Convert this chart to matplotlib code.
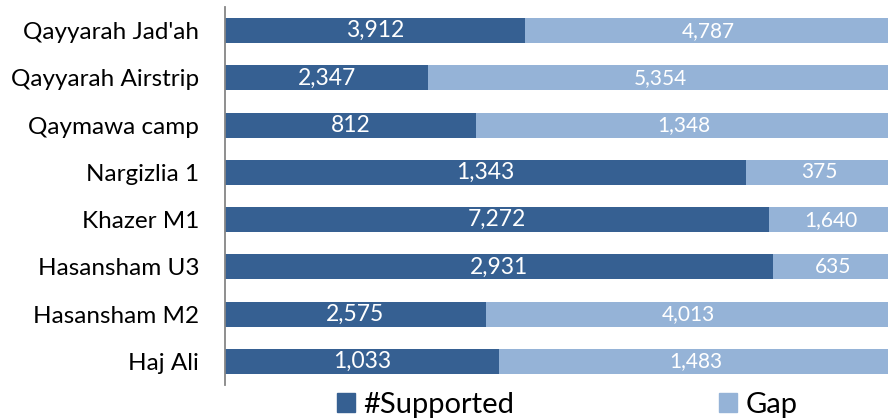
import matplotlib
matplotlib.use("Agg")
import matplotlib.pyplot as plt
from matplotlib.patches import Patch
import numpy as np

plt.rcParams['font.family'] = ['Lato', 'DejaVu Sans']

sites = ["Qayyarah Jad'ah", "Qayyarah Airstrip", "Qaymawa camp", "Nargizlia 1",
         "Khazer M1", "Hasansham U3", "Hasansham M2", "Haj Ali"]
supported = [3912, 2347, 812, 1343, 7272, 2931, 2575, 1033]
gap = [4787, 5354, 1348, 375, 1640, 635, 4013, 1483]

dark = '#366092'
light = '#95b3d7'

sup = np.array(supported, dtype=float)
gp = np.array(gap, dtype=float)
tot = sup + gp
sup_pct = sup / tot
gap_pct = gp / tot

W, H = 888, 418
fig = plt.figure(figsize=(W / 100, H / 100), dpi=100)
ax = fig.add_axes([225 / W, (H - 385) / H, 667 / W, 378 / H])

y = np.arange(len(sites))[::-1]
b1 = ax.barh(y, sup_pct, height=0.53, color=dark)
b2 = ax.barh(y, gap_pct, left=sup_pct, height=0.53, color=light)

for i in range(len(sites)):
    ax.text(sup_pct[i] / 2, y[i], f"{supported[i]:,}", ha='center', va='center',
            color='white', fontsize=16.5)
    ax.text(sup_pct[i] + gap_pct[i] / 2, y[i], f"{gap[i]:,}", ha='center', va='center',
            color='white', fontsize=15)

ax.set_xlim(0, 1)
ax.set_ylim(-0.5, len(sites) - 0.5)
ax.set_yticks(y)
ax.set_yticklabels(sites, fontsize=17.5)
ax.tick_params(axis='y', length=0, pad=18.5)
ax.set_xticks([])
for s in ['top', 'right', 'bottom']:
    ax.spines[s].set_visible(False)
ax.spines['left'].set_color('#868686')
ax.spines['left'].set_linewidth(1.3)

# two legend entries placed separately
for lab, col, x0 in [('#Supported', dark, 337), ('Gap', light, 719)]:
    fig.legend(handles=[Patch(color=col, label=lab)], loc='center left',
               bbox_to_anchor=(x0 / W, (H - 405) / H), frameon=False, fontsize=21,
               borderpad=0, borderaxespad=0, handlelength=0.62, handleheight=0.62,
               handletextpad=0.28)

fig.savefig('out.png', dpi=100)
